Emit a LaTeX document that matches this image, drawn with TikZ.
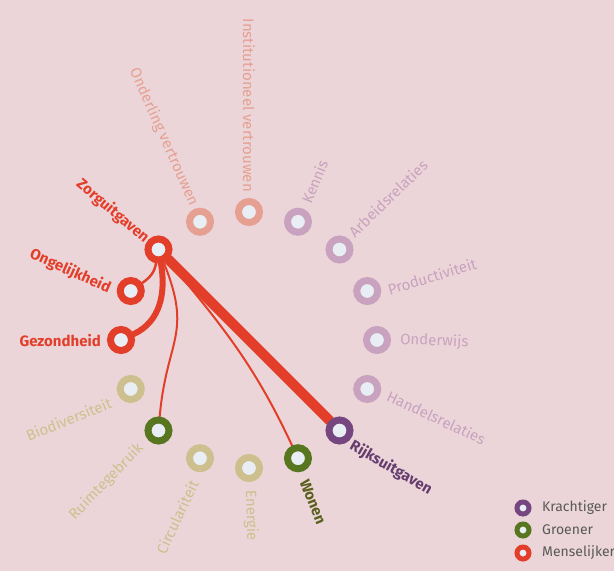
\documentclass[tikz,border=0pt]{standalone}
\usepackage{fontspec}
\setmainfont{Fira Sans}
\usetikzlibrary{positioning}
\definecolor{paperpink}{RGB}{236,213,216}
\definecolor{mensred}{RGB}{226,62,42}
\definecolor{menspale}{RGB}{229,160,146}
\definecolor{kracht}{RGB}{118,70,128}
\definecolor{krachtdark}{RGB}{100,60,110}
\definecolor{krachtpale}{RGB}{200,162,190}
\definecolor{groen}{RGB}{88,118,32}
\definecolor{groendark}{RGB}{90,95,30}
\definecolor{groenpale}{RGB}{206,192,142}
\definecolor{ringcore}{RGB}{232,238,244}
\pgfdeclarelayer{paper}
\pgfdeclarelayer{edges}
\pgfsetlayers{paper,edges,main}
\tikzset{
  ring/.style={circle,draw=#1,line width=7pt,fill=ringcore,minimum size=21pt,
    inner sep=0pt},
  keyring/.style={circle,draw=#1,line width=5pt,fill=ringcore,minimum size=12pt,
    inner sep=0pt},
  hotlbl/.style={font=\fontsize{15}{17}\selectfont\bfseries,text=#1,inner sep=0pt},
  palelbl/.style={font=\fontsize{15}{17}\selectfont,text=#1,inner sep=0pt},
  keylbl/.style={font=\fontsize{14}{16}\selectfont,text=black!65,anchor=west,
    inner sep=0pt},
  link/.style={draw=mensred,line cap=round,line width=#1},
}

\begin{document}
\begin{tikzpicture}[x=1pt,y=1pt]
  \useasboundingbox (-249,-231) rectangle (365,340);
  \begin{pgfonlayer}{paper}
    \fill[paperpink] (-249,-231) rectangle (365,340);
  \end{pgfonlayer}
  % rings, counter-clockwise from the right
  \node[ring=krachtpale] (onderwijs) at (0:128) {};
  \node[ring=krachtpale] (productiviteit) at (22.5:128) {};
  \node[ring=krachtpale] (arbeid) at (45:128) {};
  \node[ring=krachtpale] (kennis) at (67.5:128) {};
  \node[ring=menspale] (institutioneel) at (90:128) {};
  \node[ring=menspale] (onderling) at (112.5:128) {};
  \node[ring=mensred] (zorg) at (135:128) {};
  \node[ring=mensred] (onge) at (157.5:128) {};
  \node[ring=mensred] (gez) at (180:128) {};
  \node[ring=groenpale] (bio) at (202.5:128) {};
  \node[ring=groen] (ruimte) at (225:128) {};
  \node[ring=groenpale] (circ) at (247.5:128) {};
  \node[ring=groenpale] (energie) at (270:128) {};
  \node[ring=groen] (wonen) at (292.5:128) {};
  \node[ring=kracht] (rijk) at (315:128) {};
  \node[ring=krachtpale] (handel) at (337.5:128) {};
  % labels
  \node[palelbl=krachtpale,anchor=west,rotate=-2] (londerwijs) at (151,0) {Onderwijs};
  \node[palelbl=krachtpale,anchor=west,rotate=17] (lproductiviteit) at (139,50) {Productiviteit};
  \node[palelbl=krachtpale,anchor=west,rotate=44] (larbeid) at (102,106) {Arbeidsrelaties};
  \node[palelbl=krachtpale,anchor=west,rotate=68] (lkennis) at (57,137) {Kennis};
  \node[palelbl=menspale,anchor=east,rotate=-90] (linstitutioneel) at (0,148) {Institutioneel vertrouwen};
  \node[palelbl=menspale,anchor=east,rotate=-66] (londerling) at (-55,135) {Onderling vertrouwen};
  \node[hotlbl=mensred,anchor=east,rotate=-40] (lzorg) at (-102,100) {Zorguitgaven};
  \node[hotlbl=mensred,anchor=east,rotate=-24] (longe) at (-139,51) {Ongelijkheid};
  \node[hotlbl=mensred,anchor=east] (lgez) at (-148,-1) {Gezondheid};
  \node[palelbl=groenpale,anchor=east,rotate=22] (lbio) at (-138,-62) {Biodiversiteit};
  \node[palelbl=groenpale,anchor=east,rotate=46] (lruimte) at (-108,-106) {Ruimtegebruik};
  \node[palelbl=groenpale,anchor=east,rotate=65] (lcirc) at (-55,-141) {Circulariteit};
  \node[palelbl=groenpale,anchor=west,rotate=-88] (lenergie) at (1,-150) {Energie};
  \node[hotlbl=groendark,anchor=west,rotate=-68] (lwonen) at (55,-140) {Wonen};
  \node[hotlbl=krachtdark,anchor=west,rotate=-30] (lrijk) at (102,-105) {Rijksuitgaven};
  \node[palelbl=krachtpale,anchor=west,rotate=-25] (lhandel) at (139,-55) {Handelsrelaties};
  % links from Zorguitgaven
  \begin{pgfonlayer}{edges}
    \draw[link=10pt] (zorg) -- (rijk);
    \draw[link=6pt] (zorg) to[out=-80,in=25] (gez);
    \draw[link=2.5pt] (zorg) to[out=-100,in=35] (onge);
    \draw[link=2pt] (zorg) to[out=-68,in=85,looseness=1.3] (ruimte);
    \draw[link=2pt] (zorg) to[out=-50,in=115] (wonen);
  \end{pgfonlayer}
  % legend
  \node[keyring=kracht] (kkracht) at (274,-168) {};
  \node[keyring=groen] (kgroen) at (274,-190) {};
  \node[keyring=mensred] (kmens) at (274,-213) {};
  \node[keylbl] (lkkracht) at (293,-168) {Krachtiger};
  \node[keylbl] (lkgroen) at (293,-190) {Groener};
  \node[keylbl] (lkmens) at (293,-213) {Menselijker};
\end{tikzpicture}
\end{document}
